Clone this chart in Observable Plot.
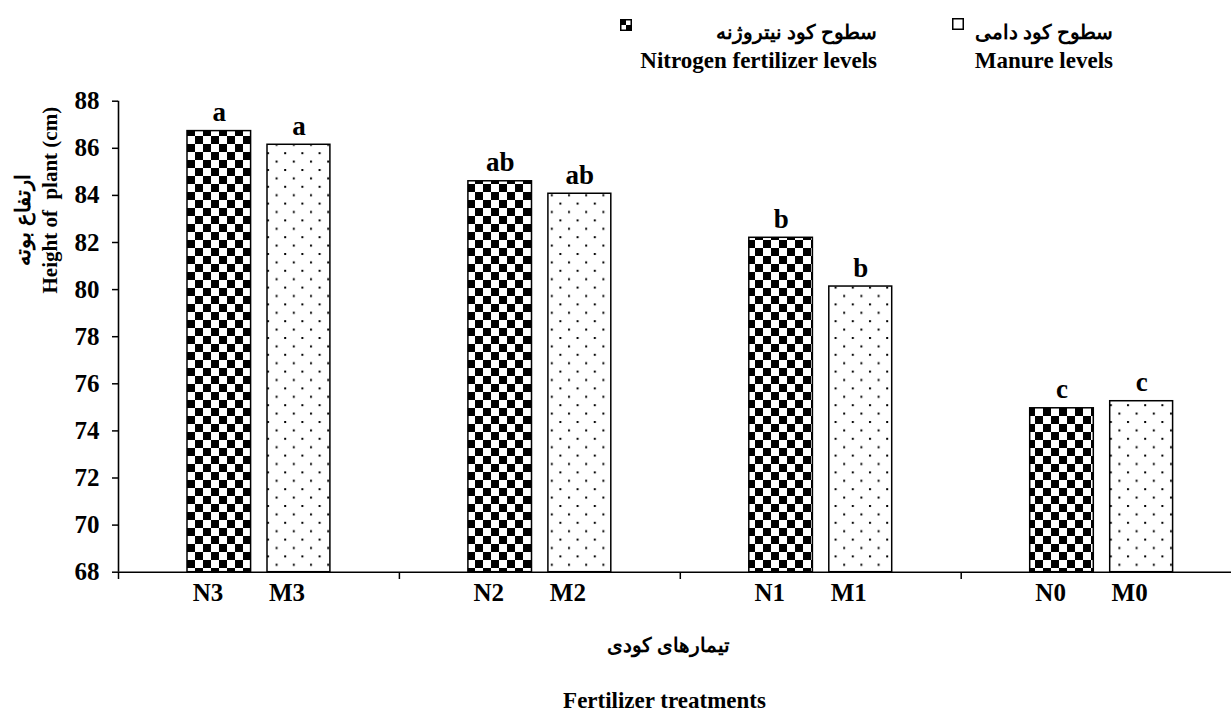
<!DOCTYPE html>
<html><head><meta charset="utf-8">
<script src="https://cdn.jsdelivr.net/npm/d3@7"></script>
<script src="https://cdn.jsdelivr.net/npm/@observablehq/plot@0.6"></script>
<style>
html,body{margin:0;padding:0;background:#fff;overflow:hidden}
#wrap{position:relative;width:1231px;height:713px;font-family:"Liberation Serif","Times New Roman",serif;font-weight:bold;color:#000}
.lg{position:absolute;white-space:nowrap}
.fa{font-size:20px;line-height:20px;direction:rtl}
.en{font-size:23px;line-height:23px}
#chart svg{display:block}
</style></head><body>
<div id="wrap">
 <div id="chart"></div>
 <div id="legend"></div>
</div>
<script>
// ---- data ----
const groups = ["3", "2", "1", "0"];
const nitrogen = [86.73, 84.60, 82.20, 74.96];
const manure = [86.15, 84.07, 80.13, 75.26];
const nLabels = ["N3", "N2", "N1", "N0"];
const mLabels = ["M3", "M2", "M1", "M0"];
const nLetters = ["a", "ab", "b", "c"];
const mLetters = ["a", "ab", "b", "c"];
const yTicks = [68, 70, 72, 74, 76, 78, 80, 82, 84, 86, 88];
const groupEdges = [0, 1, 2, 3, 4];
const seriesFa = ["سطوح کود نیتروژنه", "سطوح کود دامی"];
const seriesEn = ["Nitrogen fertilizer levels", "Manure levels"];
const xTitleFa = "تیمارهای کودی";
const xTitleEn = "Fertilizer treatments";
const yTitleFa = "ارتفاع بوته";
const yTitleEn = "Height of\u00a0 plant (cm)";
const yBase = 68;

const nData = groups.map((g, i) => ({i, g, v: nitrogen[i], label: nLabels[i], letter: nLetters[i]}));
const mData = groups.map((g, i) => ({i, g, v: manure[i], label: mLabels[i], letter: mLetters[i]}));
const serif = "Liberation Serif, Times New Roman, serif";

const plot = Plot.plot({
  width: 1231, height: 713,
  marginTop: 101, marginBottom: 141, marginLeft: 118, marginRight: 0,
  style: {fontFamily: serif, color: "#000", background: "#fff", overflow: "hidden"},
  x: {type: "linear", domain: [0, 4], range: [118, 1241.6]},
  y: {domain: [68, 88], range: [571.7, 100.7]},
  marks: [
    Plot.rect(nData, {x1: "i", x2: d => d.i + 1, y1: () => yBase, y2: "v",
      insetLeft: 69, insetRight: 148.3, fill: "url(#checker)", stroke: "#000", strokeWidth: 1.5}),
    Plot.rect(mData, {x1: "i", x2: d => d.i + 1, y1: () => yBase, y2: "v",
      insetLeft: 149, insetRight: 69, fill: "url(#dots)", stroke: "#000", strokeWidth: 1.5}),
    Plot.ruleX([0], {y1: 68, y2: 88, stroke: "#000", strokeWidth: 1.6}),
    Plot.ruleY([68], {stroke: "#000", strokeWidth: 1.6}),
    Plot.axisY({ticks: yTicks, tickSize: 6, tickPadding: 13, fontSize: 25, fontWeight: "bold",
      fontFamily: serif, label: null, strokeWidth: 1.5}),
    Plot.axisX({ticks: groupEdges, tickSize: 7, tickFormat: () => "", label: null, strokeWidth: 1.5}),
    Plot.text(nData, {x: d => d.i + 0.5, y: "v", text: "letter", dx: -39.6, dy: -10,
      lineAnchor: "bottom", fontSize: 27, fontWeight: "bold", fontFamily: serif}),
    Plot.text(mData, {x: d => d.i + 0.5, y: "v", text: "letter", dx: 40, dy: -10,
      lineAnchor: "bottom", fontSize: 27, fontWeight: "bold", fontFamily: serif}),
    Plot.text(nData, {x: d => d.i + 0.5, text: "label", frameAnchor: "bottom", dx: -51, dy: 28.5,
      fontSize: 25, fontWeight: "bold", fontFamily: serif}),
    Plot.text(mData, {x: d => d.i + 0.5, text: "label", frameAnchor: "bottom", dx: 28, dy: 28.5,
      fontSize: 25, fontWeight: "bold", fontFamily: serif}),
    Plot.text([xTitleFa], {text: d => d, frameAnchor: "bottom", dx: -6.5, dy: 79,
      fontSize: 20, fontWeight: "bold", fontFamily: serif}),
    Plot.text([xTitleEn], {text: d => d, frameAnchor: "bottom", dx: -10.5, dy: 135, lineAnchor: "bottom",
      fontSize: 23, fontWeight: "bold", fontFamily: serif}),
    Plot.text([yTitleEn], {text: d => d, frameAnchor: "left", rotate: -90, dx: -68, dy: -43.5,
      fontSize: 21, fontWeight: "bold", fontFamily: serif}),
    Plot.text([yTitleFa], {text: d => d, frameAnchor: "left", rotate: -90, dx: -95, dy: -71.5,
      fontSize: 21, fontWeight: "bold", fontFamily: serif})
  ]
});

// patterns
const svg = d3.select(plot);
const defs = svg.insert("defs", ":first-child");
const ck = defs.append("pattern").attr("id", "checker").attr("patternUnits", "userSpaceOnUse")
  .attr("width", 16).attr("height", 16).attr("x", 187).attr("y", 0);
ck.append("rect").attr("width", 16).attr("height", 16).attr("fill", "#fff");
ck.append("rect").attr("width", 8).attr("height", 8).attr("fill", "#000");
ck.append("rect").attr("x", 8).attr("y", 8).attr("width", 8).attr("height", 8).attr("fill", "#000");
const dt = defs.append("pattern").attr("id", "dots").attr("patternUnits", "userSpaceOnUse")
  .attr("width", 17.2).attr("height", 16.8).attr("x", 266).attr("y", 0);
dt.append("rect").attr("width", 17.2).attr("height", 16.8).attr("fill", "#fff");
dt.append("rect").attr("x", 1).attr("y", 1).attr("width", 2).attr("height", 2).attr("fill", "#000");
dt.append("rect").attr("x", 9.6).attr("y", 9.4).attr("width", 2).attr("height", 2).attr("fill", "#000");

document.getElementById("chart").appendChild(plot);

// legend
const lg = d3.select("#legend");
const rights = [354, 118];
seriesFa.forEach((t, k) => {
  lg.append("div").attr("class", "lg fa").style("right", rights[k] + "px").style("top", "22px").text(t);
  lg.append("div").attr("class", "lg en").style("right", rights[k] + "px").style("top", "49px").text(seriesEn[k]);
});
// legend swatches
const sw1 = lg.append("svg").style("position", "absolute").style("left", "620px").style("top", "19px")
  .attr("width", 12).attr("height", 12);
sw1.append("rect").attr("x", 0.75).attr("y", 0.75).attr("width", 10.5).attr("height", 10.5).attr("fill", "#fff").attr("stroke", "#000").attr("stroke-width", 1.5);
sw1.append("rect").attr("x", 1).attr("y", 1).attr("width", 5).attr("height", 5).attr("fill", "#000");
sw1.append("rect").attr("x", 6).attr("y", 6).attr("width", 5).attr("height", 5).attr("fill", "#000");
const sw2 = lg.append("svg").style("position", "absolute").style("left", "952px").style("top", "18px")
  .attr("width", 12).attr("height", 12);
sw2.append("rect").attr("x", 0.75).attr("y", 0.75).attr("width", 10.5).attr("height", 10.5).attr("fill", "#fff").attr("stroke", "#000").attr("stroke-width", 1.5);
</script>
</body></html>
